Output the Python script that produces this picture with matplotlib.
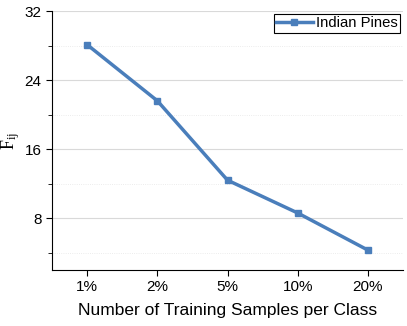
import matplotlib.pyplot as plt
from matplotlib.ticker import MultipleLocator

# Data
categories = ['1%', '2%', '5%', '10%', '20%']
indian_pines = [28.1, 21.6, 12.4, 8.6, 4.3]

plt.rcParams['font.family'] = ['Liberation Sans', 'DejaVu Sans']

fig = plt.figure(figsize=(4.07, 3.26), dpi=100)
ax = fig.add_axes([0.128, 0.172, 0.862, 0.794])

x = list(range(len(categories)))
ax.plot(x, indian_pines, color='#4a7ebb', linewidth=2.5, marker='s',
        markersize=5, label='Indian Pines')

ax.set_xlim(-0.5, len(categories) - 0.5)
ax.set_ylim(2, 32)
ax.set_xticks(x)
ax.set_xticklabels(categories)
ax.yaxis.set_major_locator(MultipleLocator(8))
ax.yaxis.set_minor_locator(MultipleLocator(4))
ax.set_yticks([8, 16, 24, 32])

ax.grid(True, which='major', axis='y', color='#d9d9d9', linewidth=0.8)
ax.grid(True, which='minor', axis='y', color='#e6e6e6', linewidth=0.6, linestyle=':')
ax.set_axisbelow(True)

for side in ['top', 'right']:
    ax.spines[side].set_visible(False)
ax.tick_params(axis='both', which='both', labelsize=11, length=4, direction='out')
ax.tick_params(axis='y', which='minor', length=3)

ax.set_xlabel('Number of Training Samples per Class', fontsize=12.5, labelpad=6)
ax.set_ylabel(r'$\mathregular{F_{ij}}$', fontsize=13, family='Liberation Serif', labelpad=2)

leg = ax.legend(loc='upper right', fontsize=10.7, fancybox=False, framealpha=1,
                edgecolor='black', borderpad=0.15, handlelength=2.5,
                handletextpad=0.2, borderaxespad=0.2)
leg.get_frame().set_linewidth(0.8)

plt.savefig('out.png', dpi=100)
